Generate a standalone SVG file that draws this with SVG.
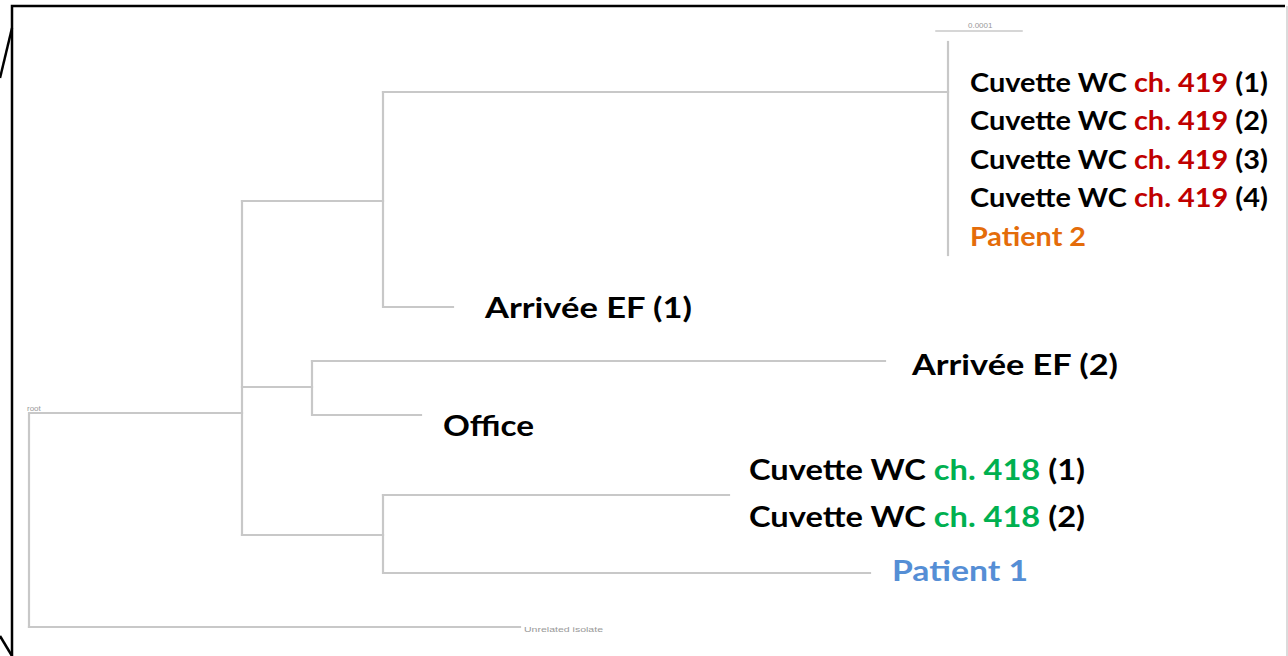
<svg xmlns="http://www.w3.org/2000/svg" width="1288" height="656" viewBox="0 0 1288 656">
<style>
.br{stroke:#c8c8c8;stroke-width:2.2;fill:none;stroke-linecap:square}
.lb{font-family:"Lato","Open Sans","Liberation Sans",sans-serif;font-weight:bold;fill:#000}
.red{fill:#c00000}.grn{fill:#00b050}.org{fill:#e46c0a}.blu{fill:#558ed5}
.sm{font-family:"Liberation Sans",sans-serif;font-size:8px;fill:#999}
</style>
<rect width="1288" height="656" fill="#fff"/>
<g id="frame" stroke="#000" stroke-width="2.5" fill="none">
<path d="M12 656 V6 H1285"/>
<path d="M12 28 L0 78"/>
<path d="M0 636 L12 656"/>
<path d="M1287 6 V656" stroke="#cfcfcf" stroke-width="1.5"/>
</g>
<g id="connectors" class="br">
<path d="M29 627 V413 H242"/>
<path d="M29 627 H520"/>
<path d="M242 201 V535"/>
<path d="M242 201 H383"/>
<path d="M383 92 V307 H453"/>
<path d="M383 92 H948"/>
<path d="M948 42 V255"/>
<path d="M242 387 H312"/>
<path d="M312 361 V415 H421"/>
<path d="M312 361 H885"/>
<path d="M242 535 H383"/>
<path d="M383 495 V573 H870"/>
<path d="M383 495 H729"/>
<path d="M936 31 H1022" stroke-width="1.5"/>
</g>
<g id="small-labels">
<text class="sm" x="27" y="411">root</text>
<text class="sm" x="524" y="632" font-size="10.5" textLength="79" lengthAdjust="spacingAndGlyphs">Unrelated isolate</text>
<text class="sm" x="968" y="28" font-size="5">0.0001</text>
</g>
<g id="node-419-1"><text class="lb" x="970" y="92" font-size="26" textLength="298" lengthAdjust="spacingAndGlyphs">Cuvette WC <tspan class="red">ch. 419</tspan> (1)</text></g>
<g id="node-419-2"><text class="lb" x="970" y="130" font-size="26" textLength="298" lengthAdjust="spacingAndGlyphs">Cuvette WC <tspan class="red">ch. 419</tspan> (2)</text></g>
<g id="node-419-3"><text class="lb" x="970" y="169" font-size="26" textLength="298" lengthAdjust="spacingAndGlyphs">Cuvette WC <tspan class="red">ch. 419</tspan> (3)</text></g>
<g id="node-419-4"><text class="lb" x="970" y="207" font-size="26" textLength="298" lengthAdjust="spacingAndGlyphs">Cuvette WC <tspan class="red">ch. 419</tspan> (4)</text></g>
<g id="node-patient2"><text class="lb org" x="970" y="246" font-size="26" textLength="116" lengthAdjust="spacingAndGlyphs">Patient 2</text></g>
<g id="node-arrivee1"><text class="lb" x="485" y="318" font-size="29" textLength="207" lengthAdjust="spacingAndGlyphs">Arrivée EF (1)</text></g>
<g id="node-arrivee2"><text class="lb" x="912" y="375" font-size="29" textLength="206" lengthAdjust="spacingAndGlyphs">Arrivée EF (2)</text></g>
<g id="node-office"><text class="lb" x="443" y="436" font-size="29" textLength="91" lengthAdjust="spacingAndGlyphs">Office</text></g>
<g id="node-418-1"><text class="lb" x="749" y="480" font-size="29" textLength="336" lengthAdjust="spacingAndGlyphs">Cuvette WC <tspan class="grn">ch. 418</tspan> (1)</text></g>
<g id="node-418-2"><text class="lb" x="749" y="527" font-size="29" textLength="336" lengthAdjust="spacingAndGlyphs">Cuvette WC <tspan class="grn">ch. 418</tspan> (2)</text></g>
<g id="node-patient1"><text class="lb blu" x="892" y="581" font-size="29" textLength="136" lengthAdjust="spacingAndGlyphs">Patient 1</text></g>
</svg>
